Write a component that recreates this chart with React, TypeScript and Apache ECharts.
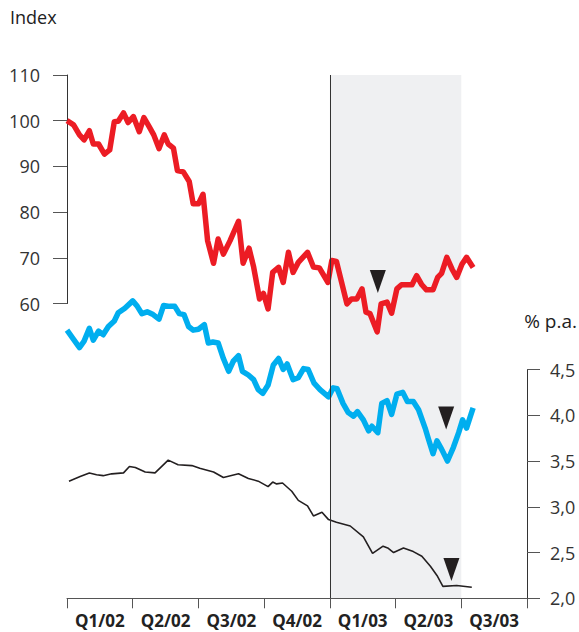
import React, { useEffect, useRef } from "react";
import * as echarts from "echarts";

// x positions in quarters since start of Q1/02
const quarters = ["Q1/02", "Q2/02", "Q3/02", "Q4/02", "Q1/03", "Q2/03", "Q3/03"];
const leftTicks = { min: 60, max: 110, interval: 10 };
const rightTicks = { min: 2, max: 4.5, interval: 0.5 };

const redX = [0.0,0.10,0.19,0.26,0.34,0.40,0.48,0.57,0.65,0.72,0.78,0.86,0.93,1.01,1.10,1.17,1.25,1.32,1.40,1.48,1.54,1.62,1.68,1.77,1.86,1.92,2.00,2.07,2.14,2.23,2.30,2.38,2.48,2.61,2.68,2.77,2.84,2.93,2.99,3.06,3.13,3.22,3.29,3.37,3.44,3.52,3.66,3.75,3.84,3.97,4.03,4.10,4.26,4.33,4.41,4.49,4.55,4.61,4.72,4.78,4.87,4.94,5.02,5.09,5.25,5.32,5.40,5.47,5.57,5.64,5.70,5.78,5.86,5.93,6.01,6.08,6.18];
const redY = [100,99.1,96.9,95.8,97.8,94.9,94.9,92.7,93.6,99.8,99.9,101.7,99.6,100.9,97.6,100.7,98.7,96.9,93.9,96.9,94.9,94.0,89.1,88.8,86.7,81.8,81.8,83.9,73.7,68.8,74.1,70.8,73.7,78.0,68.8,72.1,68.0,61.0,62.2,58.8,66.8,67.9,64.6,71.2,66.8,69.0,71.2,68.0,67.8,64.6,69.4,69.2,59.9,61.0,61.0,63.2,58.1,57.8,53.8,59.9,60.3,57.9,63.2,64.1,64.1,66.1,64.1,63.0,63.0,65.7,66.6,70.1,67.5,65.7,68.6,70.1,67.9];

const blueX = [0.0,0.10,0.19,0.26,0.34,0.40,0.48,0.55,0.63,0.72,0.78,0.88,1.00,1.07,1.14,1.22,1.31,1.40,1.47,1.56,1.64,1.71,1.78,1.85,1.92,2.00,2.09,2.15,2.22,2.30,2.38,2.46,2.53,2.61,2.67,2.76,2.84,2.91,2.98,3.06,3.14,3.22,3.29,3.35,3.44,3.52,3.60,3.67,3.76,3.85,3.98,4.05,4.11,4.20,4.28,4.36,4.42,4.51,4.59,4.64,4.73,4.79,4.87,4.94,5.02,5.11,5.18,5.27,5.35,5.45,5.50,5.57,5.63,5.70,5.79,5.88,5.96,6.02,6.08,6.18];
const blueY = [4.93,4.83,4.74,4.81,4.95,4.82,4.92,4.88,4.97,5.03,5.12,5.17,5.25,5.19,5.11,5.13,5.10,5.05,5.20,5.19,5.19,5.11,5.10,4.97,4.93,4.94,4.99,4.79,4.80,4.79,4.62,4.48,4.59,4.65,4.48,4.44,4.39,4.28,4.24,4.33,4.55,4.62,4.50,4.56,4.39,4.41,4.51,4.50,4.35,4.28,4.20,4.30,4.29,4.13,4.03,3.99,4.04,3.95,3.83,3.88,3.81,4.13,4.16,4.01,4.23,4.25,4.15,4.15,4.06,3.86,3.74,3.58,3.72,3.63,3.50,3.65,3.81,3.95,3.86,4.08];

const blackX = [0.03,0.20,0.34,0.45,0.55,0.68,0.86,0.95,1.04,1.19,1.34,1.54,1.69,1.90,2.02,2.23,2.38,2.61,2.76,2.91,3.06,3.13,3.19,3.28,3.42,3.52,3.66,3.75,3.88,3.98,4.10,4.31,4.51,4.65,4.81,4.88,4.97,5.12,5.27,5.40,5.53,5.63,5.72,5.93,6.16];
const blackY = [3.28,3.33,3.37,3.35,3.34,3.36,3.37,3.44,3.43,3.38,3.37,3.51,3.46,3.45,3.42,3.38,3.32,3.36,3.31,3.28,3.22,3.27,3.25,3.26,3.17,3.07,3.01,2.90,2.94,2.86,2.83,2.79,2.67,2.49,2.57,2.55,2.50,2.55,2.51,2.46,2.35,2.25,2.13,2.14,2.12];

const shadeRange = [4, 6];
const redArrow = [4.73, 64.8];
const blueArrow = [5.77, 3.97];
const blackArrow = [5.85, 2.315];

const zip = (xs: number[], ys: number[]) => xs.map((x, i) => [x, ys[i]]);

const FONT = '"Open Sans", "Noto Sans", sans-serif';
const AXIS_COLOR = "#555";

export default function App() {
  const ref = useRef<HTMLDivElement>(null);
  useEffect(() => {
    if (!ref.current) return;
    const chart = echarts.init(ref.current, undefined, { renderer: "svg" });
    const arrowPoint = (coord: number[]) => ({
      symbol: "triangle",
      symbolRotate: 180,
      symbolSize: [16, 23],
      itemStyle: { color: "#231f20" },
      label: { show: false },
      silent: true,
      data: [{ coord }],
    });
    const option: any = {
      animation: false,
      textStyle: { fontFamily: FONT },
      graphic: [
        { type: "text", left: 10, top: 8, style: { text: "Index", font: `18px ${FONT}`, fill: "#222" } },
        { type: "text", right: 2, top: 311, style: { text: "% p.a.", font: `19px ${FONT}`, fill: "#222" } },
      ],
      grid: [
        { left: 67, right: 52, top: 75, height: 228.5 },
        { left: 67, right: 52, top: 369.5, height: 228.8 },
        { left: 67, right: 52, top: 75, height: 523.3 },
        { left: 67, right: 52, top: 75, height: 523.3 },
      ],
      xAxis: [
        { gridIndex: 0, type: "value", min: 0, max: 7, show: false },
        { gridIndex: 1, type: "value", min: 0, max: 7, show: false },
        {
          gridIndex: 2,
          type: "category",
          data: quarters,
          boundaryGap: true,
          z: 5,
          axisLine: { show: true, onZero: false, lineStyle: { color: AXIS_COLOR, width: 1 } },
          axisTick: { show: true, length: 10, interval: 0, lineStyle: { color: AXIS_COLOR } },
          axisLabel: {
            interval: 0,
            hideOverlap: false,
            margin: 14,
            color: "#222",
            fontWeight: "bold",
            fontSize: 17,
            fontFamily: FONT,
          },
          splitLine: { show: false },
        },
        { gridIndex: 3, type: "value", min: 0, max: 7, show: false },
      ],
      yAxis: [
        {
          gridIndex: 0,
          type: "value",
          position: "left",
          min: leftTicks.min,
          max: leftTicks.max,
          interval: leftTicks.interval,
          axisLine: { show: true, onZero: false, lineStyle: { color: "#333", width: 1 } },
          axisTick: { show: true, length: 14, lineStyle: { color: AXIS_COLOR } },
          axisLabel: { margin: 27, color: "#333", fontSize: 18, fontFamily: FONT },
          splitLine: { show: false },
        },
        {
          gridIndex: 1,
          type: "value",
          position: "right",
          min: rightTicks.min,
          max: rightTicks.max,
          interval: rightTicks.interval,
          axisLine: { show: true, onZero: false, lineStyle: { color: "#333", width: 1 } },
          axisTick: { show: true, length: 13, lineStyle: { color: AXIS_COLOR } },
          axisLabel: {
            margin: 23,
            color: "#333",
            fontSize: 18,
            fontFamily: FONT,
            formatter: (v: number) => v.toFixed(1).replace(".", ","),
          },
          splitLine: { show: false },
        },
        { gridIndex: 2, type: "value", min: 0, max: 1, show: false },
        { gridIndex: 3, type: "value", min: 0, max: 1, show: false },
      ],
      series: [
        {
          type: "line",
          xAxisIndex: 3,
          yAxisIndex: 3,
          z: 1,
          data: [[0, 0], [7, 0]],
          showSymbol: false,
          silent: true,
          lineStyle: { opacity: 0 },
          markArea: {
            silent: true,
            itemStyle: { color: "#eff0f2" },
            label: { show: false },
            data: [[{ xAxis: shadeRange[0], yAxis: 0 }, { xAxis: shadeRange[1], yAxis: 1 }]],
          },
          markLine: {
            silent: true,
            symbol: "none",
            label: { show: false },
            lineStyle: { color: "#333", width: 1, type: "solid" },
            data: [{ xAxis: shadeRange[0] }],
          },
        },
        {
          type: "line",
          xAxisIndex: 0,
          yAxisIndex: 0,
          z: 3,
          clip: false,
          data: zip(redX, redY),
          showSymbol: false,
          lineStyle: { color: "#ec1c24", width: 5.5, join: "round" },
          itemStyle: { color: "#ec1c24" },
          markPoint: arrowPoint(redArrow),
        },
        {
          type: "line",
          xAxisIndex: 1,
          yAxisIndex: 1,
          z: 3,
          clip: false,
          data: zip(blueX, blueY),
          showSymbol: false,
          lineStyle: { color: "#00aeef", width: 5.5, join: "round" },
          itemStyle: { color: "#00aeef" },
          markPoint: arrowPoint(blueArrow),
        },
        {
          type: "line",
          xAxisIndex: 1,
          yAxisIndex: 1,
          z: 3,
          clip: false,
          data: zip(blackX, blackY),
          showSymbol: false,
          lineStyle: { color: "#231f20", width: 1.6 },
          itemStyle: { color: "#231f20" },
          markPoint: arrowPoint(blackArrow),
        },
      ],
    };
    chart.setOption(option);
    return () => chart.dispose();
  }, []);
  return <div ref={ref} style={{ width: 579, height: 632, position: "absolute", left: 0, top: 0 }} />;
}
